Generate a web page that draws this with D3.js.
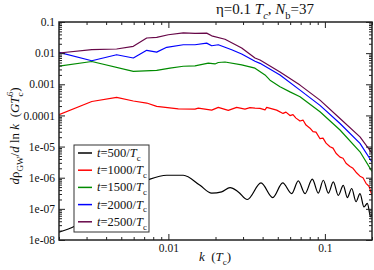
<!DOCTYPE html>
<html>
<head>
<meta charset="utf-8">
<script src="https://cdn.jsdelivr.net/npm/d3@7"></script>
<style>
    body { margin: 0; background: #fff; }
    svg { display: block; }
    svg text { font-family: "Liberation Serif", "Times New Roman", Times, "DejaVu Serif", serif; }
</style>
</head>
<body>
<div id="chart"></div>
<script>
// GW spectra at successive times, [k / T_c, d rho_GW / d ln k]
const t500 = [[0.002,1.8e-8],[0.00253,2.8e-8],[0.00316,6.2e-8],[0.00423,1.9e-7],[0.00569,4.3e-7],
    [0.00763,9.0e-7],[0.00976,1.2e-6],[0.01245,1.2e-6],[0.01592,5.7e-7],[0.01891,3.2e-7],[0.0219,3.5e-7],
    [0.02476,4.8e-7],[0.02798,3.5e-7],[0.03194,2.0e-7],[0.03906,6.8e-7],[0.04642,2.3e-7],[0.05376,6.8e-7],
    [0.06136,3.1e-7],[0.06762,7.9e-7],[0.07464,3.1e-7],[0.0831,9.0e-7],[0.09078,3.2e-7],[0.0977,8.3e-7],
    [0.1052,3.2e-7],[0.1132,7.3e-7],[0.1218,2.7e-7],[0.1311,5.7e-7],[0.1391,2.3e-7],[0.1484,4.5e-7],
    [0.1581,1.7e-7],[0.1676,3.1e-7],[0.1778,1.15e-7],[0.1867,1.5e-7],[0.1962,5.5e-8],[0.2,7.0e-8]];

const t1000 = [[0.002,1.05e-4],[0.00324,2.8e-4],[0.00467,3.8e-4],[0.00597,2.9e-4],[0.00727,2.5e-4],
    [0.00842,1.95e-4],[0.01157,1.63e-4],[0.01479,1.6e-4],[0.01552,1.72e-4],[0.01891,1.48e-4],[0.02084,1.81e-4],
    [0.02414,1.45e-4],[0.02732,1.81e-4],[0.03086,1.6e-4],[0.03322,1.78e-4],[0.03576,1.72e-4],[0.0385,1.68e-4],
    [0.04144,1.51e-4],[0.04248,1.81e-4],[0.0492,1.48e-4],[0.054,1.16e-4],[0.0564,1.28e-4],[0.05984,9.9e-5],
    [0.06254,1.06e-4],[0.06536,8.2e-5],[0.06934,6.6e-5],[0.07246,7.1e-5],[0.07574,4.9e-5],[0.08034,3.9e-5],
    [0.08396,3.0e-5],[0.08774,2.9e-5],[0.09306,1.79e-5],[0.09728,1.86e-5],[0.1017,1.29e-5],[0.1078,9.9e-6],
    [0.1127,8.9e-6],[0.1178,6.1e-6],[0.1249,4.6e-6],[0.1306,4.2e-6],[0.1365,2.9e-6],[0.1447,2.3e-6],
    [0.1512,2.0e-6],[0.1581,1.5e-6],[0.1676,1.12e-6],[0.1752,1.0e-6],[0.1831,6.6e-7],[0.1914,5.3e-7],[0.2,2.7e-7]];

const t1500 = [[0.002,3.8e-3],[0.00324,5.4e-3],[0.00597,2.6e-3],[0.00842,2.8e-3],[0.01024,3.3e-3],
    [0.01245,3.8e-3],[0.01479,3.9e-3],[0.01799,4.8e-3],[0.01985,4.5e-3],[0.02084,5.0e-3],[0.023,5.2e-3],
    [0.0294,4.2e-3],[0.03576,3.3e-3],[0.04144,2.0e-3],[0.0446,1.36e-3],[0.05166,8.3e-4],[0.05984,5.7e-4],
    [0.06934,4.0e-4],[0.09306,1.31e-4],[0.1249,3.4e-5],[0.1676,6.8e-6],[0.2,1.6e-6]];

const t2000 = [[0.002,1.06e-2],[0.00324,5.7e-3],[0.00467,8.9e-3],[0.00597,7.0e-3],[0.00727,1.23e-2],
    [0.00842,1.08e-2],[0.00976,1.54e-2],[0.01245,1.86e-2],[0.01479,1.86e-2],[0.01757,2.1e-2],[0.01891,1.73e-2],
    [0.02084,1.86e-2],[0.02538,1.29e-2],[0.0294,9.4e-3],[0.03576,5.5e-3],[0.0385,4.7e-3],[0.05166,2.0e-3],
    [0.06934,6.5e-4],[0.09306,2.1e-4],[0.1249,5.5e-5],[0.1676,1.26e-5],[0.2,3.2e-6]];

const t2500 = [[0.002,1.01e-2],[0.00324,1.29e-2],[0.00467,1.36e-2],[0.00597,1.66e-2],[0.00727,3.06e-2],
    [0.00842,3.2e-2],[0.00999,3.9e-2],[0.01245,4.5e-2],[0.01479,4.3e-2],[0.01757,4.4e-2],[0.01891,3.6e-2],
    [0.023,2.8e-2],[0.0294,1.46e-2],[0.03576,7.0e-3],[0.0385,6.0e-3],[0.05166,2.5e-3],[0.06934,9.4e-4],
    [0.09306,3.1e-4],[0.1249,8.0e-5],[0.1676,2.05e-5],[0.2,6.1e-6]];

const seriesTimes = ['500', '1000', '1500', '2000', '2500'];
const seriesColors = ['#000000', '#ff0000', '#008b00', '#0000ff', '#670748'];
const seriesData = [t500, t1000, t1500, t2000, t2500];

const xTickValues = [0.01, 0.1];
const xTickLabels = ['0.01', '0.1'];
const yTickValues = [1e-8, 1e-7, 1e-6, 1e-5, 1e-4, 1e-3, 0.01, 0.1];
const yTickLabels = ['1e-08', '1e-07', '1e-06', '1e-05', '0.0001', '0.001', '0.01', '0.1'];

const W = 374, H = 270;
const plot = { left: 59, right: 372, top: 22, bottom: 240 };

const svg = d3.select('#chart').append('svg')
    .attr('width', W)
    .attr('height', H);

const x = d3.scaleLog().domain([0.002, 0.2]).range([plot.left, plot.right]);
const y = d3.scaleLog().domain([1e-8, 0.1]).range([plot.bottom, plot.top]);

// append italic / sub / sup pieces as tspans
function richText(text, parts, size) {
    let shift = 0;
    parts.forEach(p => {
        const target = p.sub ? size * 0.3 : p.sup ? -size * 0.45 : 0;
        const ts = text.append('tspan')
            .attr('dy', target - shift)
            .style('font-size', (p.sub || p.sup) ? (size * 0.7) + 'px' : size + 'px')
            .style('font-style', p.i ? 'italic' : 'normal')
            .text(p.t);
        if (p.dx) ts.attr('dx', p.dx);
        shift = target;
    });
}

// curves, clipped to the frame
svg.append('clipPath').attr('id', 'clip')
    .append('rect')
    .attr('x', plot.left).attr('y', plot.top)
    .attr('width', plot.right - plot.left)
    .attr('height', plot.bottom - plot.top);

const lineGen = d3.line().x(d => x(d[0])).y(d => y(d[1]));
const smoothLine = d3.line().x(d => x(d[0])).y(d => y(d[1])).curve(d3.curveMonotoneX);

const curves = svg.append('g').attr('clip-path', 'url(#clip)');
seriesData.forEach((data, i) => {
    curves.append('path')
        .datum(data)
        .attr('fill', 'none')
        .attr('stroke', seriesColors[i])
        .attr('stroke-width', 1.2)
        .attr('stroke-linejoin', 'round')
        .attr('d', i === 0 ? smoothLine : lineGen);
});

// axes with inward ticks on all four sides
const xMinor = x.ticks().filter(v => !xTickValues.includes(v));
const yMinor = y.ticks().filter(v => !yTickValues.some(t => Math.abs(t - v) / v < 1e-6));

function styleAxis(g) {
    g.attr('font-family', null).attr('font-size', null);
    g.select('.domain').remove();
    g.selectAll('line').attr('stroke', '#222');
    g.selectAll('text').style('font-size', '11.5px').attr('fill', '#111');
}

svg.append('g').attr('transform', `translate(0,${plot.bottom})`)
    .call(d3.axisBottom(x).tickValues(xTickValues).tickSize(-6).tickPadding(4)
        .tickFormat((d, i) => xTickLabels[i]))
    .call(styleAxis);
svg.append('g').attr('transform', `translate(0,${plot.bottom})`)
    .call(d3.axisBottom(x).tickValues(xMinor).tickSize(-3).tickFormat(''))
    .call(styleAxis);
svg.append('g').attr('transform', `translate(0,${plot.top})`)
    .call(d3.axisTop(x).tickValues(xTickValues).tickSize(-6).tickFormat(''))
    .call(styleAxis);
svg.append('g').attr('transform', `translate(0,${plot.top})`)
    .call(d3.axisTop(x).tickValues(xMinor).tickSize(-3).tickFormat(''))
    .call(styleAxis);

svg.append('g').attr('transform', `translate(${plot.left},0)`)
    .call(d3.axisLeft(y).tickValues(yTickValues).tickSize(-6).tickPadding(4)
        .tickFormat((d, i) => yTickLabels[i]))
    .call(styleAxis);
svg.append('g').attr('transform', `translate(${plot.left},0)`)
    .call(d3.axisLeft(y).tickValues(yMinor).tickSize(-3).tickFormat(''))
    .call(styleAxis);
svg.append('g').attr('transform', `translate(${plot.right},0)`)
    .call(d3.axisRight(y).tickValues(yTickValues).tickSize(-6).tickFormat(''))
    .call(styleAxis);
svg.append('g').attr('transform', `translate(${plot.right},0)`)
    .call(d3.axisRight(y).tickValues(yMinor).tickSize(-3).tickFormat(''))
    .call(styleAxis);

svg.append('rect')
    .attr('x', plot.left).attr('y', plot.top)
    .attr('width', plot.right - plot.left)
    .attr('height', plot.bottom - plot.top)
    .attr('fill', 'none')
    .attr('stroke', '#222')
    .attr('stroke-width', 1.5);

// title
const title = svg.append('text')
    .attr('x', 265).attr('y', 14)
    .attr('text-anchor', 'middle')
    .style('white-space', 'pre')
    .attr('fill', '#111');
richText(title, [
    { t: 'η=0.1 ' }, { t: 'T', i: true }, { t: 'c', i: true, sub: true },
    { t: ', ' }, { t: 'N', i: true }, { t: 'b', sub: true }, { t: '=37' }
], 15);

// axis labels
const xLabel = svg.append('text')
    .attr('x', 215).attr('y', 261)
    .attr('text-anchor', 'middle')
    .style('white-space', 'pre')
    .attr('fill', '#111');
richText(xLabel, [
    { t: 'k', i: true }, { t: '  (' }, { t: 'T', i: true }, { t: 'c', sub: true }, { t: ')' }
], 13);

const yLabel = svg.append('text')
    .attr('transform', 'translate(19,136) rotate(-90)')
    .attr('text-anchor', 'middle')
    .style('white-space', 'pre')
    .attr('fill', '#111');
richText(yLabel, [
    { t: 'd', i: true }, { t: 'ρ' }, { t: 'GW', sub: true }, { t: '/' }, { t: 'd', i: true },
    { t: ' ln ' }, { t: 'k', i: true }, { t: '  (' }, { t: 'GT', i: true }, { t: 'c', sub: true },
    { t: '6', sup: true, dx: -4 }, { t: ')' }
], 13);

// legend
const legend = svg.append('g');
legend.append('rect')
    .attr('x', 74).attr('y', 145)
    .attr('width', 75).attr('height', 87)
    .attr('fill', '#fff')
    .attr('stroke', '#333')
    .attr('stroke-width', 1);

seriesTimes.forEach((t, i) => {
    const ly = 153 + i * 17.2;
    legend.append('line')
        .attr('x1', 78).attr('x2', 92)
        .attr('y1', ly).attr('y2', ly)
        .attr('stroke', seriesColors[i])
        .attr('stroke-width', 1.5);
    const txt = legend.append('text')
        .attr('x', 97).attr('y', ly + 4)
        .attr('fill', '#111');
    richText(txt, [
        { t: 't', i: true }, { t: '=' + t + '/' }, { t: 'T', i: true }, { t: 'c', sub: true }
    ], 12.5);
});
</script>
</body>
</html>
